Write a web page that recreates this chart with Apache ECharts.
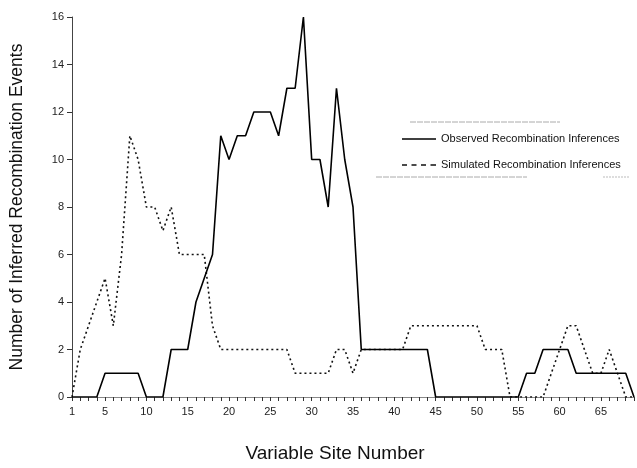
<!DOCTYPE html>
<html>
<head>
<meta charset="utf-8">
<script src="https://cdn.jsdelivr.net/npm/echarts@6/dist/echarts.min.js"></script>
<style>
html,body{margin:0;padding:0;background:#fff;}
#c{width:637px;height:468px;}
</style>
</head>
<body>
<div id="c"></div>
<script>
// Variable site numbers 1..69
var sites = [1,2,3,4,5,6,7,8,9,10,11,12,13,14,15,16,17,18,19,20,21,22,23,24,25,26,27,28,29,30,31,32,33,34,35,36,37,38,39,40,41,42,43,44,45,46,47,48,49,50,51,52,53,54,55,56,57,58,59,60,61,62,63,64,65,66,67,68,69];
var observed = [0,0,0,0,1,1,1,1,1,0,0,0,2,2,2,4,5,6,11,10,11,11,12,12,12,11,13,13,16,10,10,8,13,10,8,2,2,2,2,2,2,2,2,2,0,0,0,0,0,0,0,0,0,0,0,1,1,2,2,2,2,1,1,1,1,1,1,1,0];
var simulated = [0,2,3,4,5,3,6,11,10,8,8,7,8,6,6,6,6,3,2,2,2,2,2,2,2,2,2,1,1,1,1,1,2,2,1,2,2,2,2,2,2,3,3,3,3,3,3,3,3,3,2,2,2,0,0,0,0,0,1,2,3,3,2,1,1,2,1,0,0];
var xLabelSites = [1,5,10,15,20,25,30,35,40,45,50,55,60,65];
var yTicks = [0,2,4,6,8,10,12,14,16];
var seriesNames = ['Observed Recombination Inferences','Simulated Recombination Inferences'];
var xTitle = 'Variable Site Number';
var yTitle = 'Number of Inferred Recombination Events';

function pairs(vals){ return sites.map(function(s,i){ return [s, vals[i]]; }); }

var solidIcon = 'path://M0,0h34v1.6h-34z';
var dashIcon = 'path://M0,0h5v1.6h-5z M9.5,0h5v1.6h-5z M19,0h5v1.6h-5z M28.5,0h5.5v1.6h-5.5z';

var chart = echarts.init(document.getElementById('c'), null, {renderer:'canvas'});
var font = 'Liberation Sans, Arial, Helvetica, sans-serif';
chart.setOption({
  backgroundColor:'#fff',
  animation:false,
  grid:{left:68, right:3, top:17, bottom:67, containLabel:false},
  xAxis:{
    type:'value', min:1, max:69, interval:1,
    name:xTitle, nameLocation:'middle', nameGap:47,
    nameTextStyle:{fontFamily:font, fontSize:19, color:'#111', padding:[0,36,0,0]},
    axisLine:{show:true, onZero:false, lineStyle:{color:'#888', width:1}},
    axisTick:{show:true, length:4, lineStyle:{color:'#333', width:1}},
    axisLabel:{fontFamily:font, fontSize:11, color:'#222', margin:9,
      formatter:function(v){ return xLabelSites.indexOf(v) >= 0 ? String(v) : ''; }},
    splitLine:{show:false}
  },
  yAxis:{
    type:'value', min:0, max:16, interval:2,
    name:yTitle, nameLocation:'middle', nameGap:46, nameRotate:90,
    nameTextStyle:{fontFamily:font, fontSize:17.5, color:'#111'},
    axisLine:{show:true, lineStyle:{color:'#444', width:1}},
    axisTick:{show:true, length:5, lineStyle:{color:'#333'}},
    axisLabel:{fontFamily:font, fontSize:11, color:'#222', margin:8,
      formatter:function(v){ return yTicks.indexOf(v) >= 0 ? String(v) : ''; }},
    splitLine:{show:false}
  },
  legend:{
    orient:'vertical', left:397, top:128, itemWidth:34, itemHeight:12, itemGap:14,
    textStyle:{fontFamily:font, fontSize:11, color:'#111', lineHeight:12},
    data:[{name:seriesNames[0], icon:solidIcon}, {name:seriesNames[1], icon:dashIcon}]
  },
  graphic:[
    {type:'line', shape:{x1:410,y1:122,x2:560,y2:122}, style:{stroke:'#aaa', lineWidth:1, lineDash:[6,1]}, silent:true},
    {type:'line', shape:{x1:376,y1:177,x2:527,y2:177}, style:{stroke:'#aaa', lineWidth:1, lineDash:[6,1]}, silent:true},
    {type:'line', shape:{x1:603,y1:177,x2:629,y2:177}, style:{stroke:'#bbb', lineWidth:1, lineDash:[2,1]}, silent:true}
  ],
  series:[
    {name:seriesNames[0], type:'line', data:pairs(observed), symbol:'none',
      lineStyle:{color:'#000', width:1.6, type:'solid'}, itemStyle:{color:'#000'}, z:3},
    {name:seriesNames[1], type:'line', data:pairs(simulated), symbol:'none',
      lineStyle:{color:'#111', width:1.6, type:[2,3]}, itemStyle:{color:'#111'}, z:2}
  ]
});
</script>
</body>
</html>
